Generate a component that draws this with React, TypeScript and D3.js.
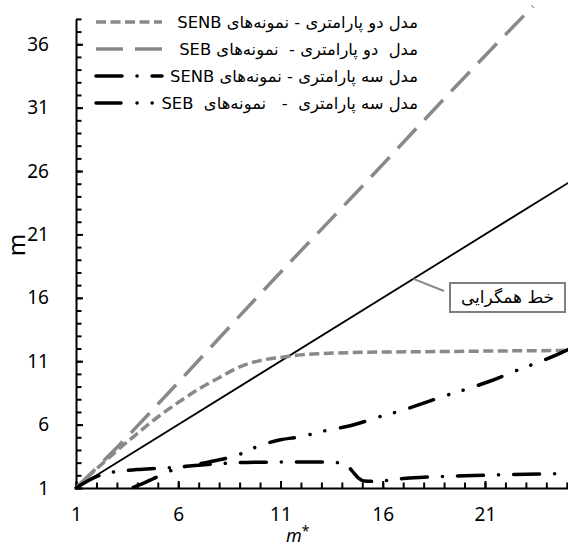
import React from 'react';
import * as d3 from 'd3';

// m* values and m values
const senb2X = [1, 2, 3, 4, 5, 6, 7, 8, 9, 10, 11, 12, 13, 15, 18, 21, 25.1];
const senb2Y = [1, 2.5, 3.95, 5.3, 6.6, 7.75, 8.8, 9.7, 10.55, 11.05, 11.3,
  11.5, 11.6, 11.7, 11.75, 11.8, 11.85];

const seb2X = [1, 3, 5, 10, 15, 20, 23.35];
const seb2Y = [1, 4.2, 7.6, 16.3, 24.8, 33.4, 39];

const senb3X = [1, 2, 2.5, 3, 4, 5, 6, 7, 8, 9, 10, 11, 12, 13, 13.8, 14.2,
  14.5, 14.8, 15.1, 15.6, 16.2, 17, 18, 20, 22, 25.1];
const senb3Y = [1, 1.9, 2.15, 2.3, 2.45, 2.55, 2.65, 2.8, 2.92, 3.0, 3.03,
  3.05, 3.05, 3.05, 3.0, 2.85, 2.35, 1.8, 1.55, 1.52, 1.6, 1.75, 1.85, 1.97,
  2.05, 2.15];

const seb3X = [3.8, 4.2, 4.8, 5.45, 6.5, 7.5, 8.9, 10, 11, 12, 13, 14.5, 15.8,
  17, 18, 19.2, 20, 21.2, 22.6, 23.5, 24.5, 25.1];
const seb3Y = [1.05, 1.3, 1.75, 2.25, 2.75, 3.05, 3.6, 4.35, 4.8, 5.05, 5.45,
  5.95, 6.6, 7.15, 7.7, 8.35, 8.75, 9.4, 10.3, 10.85, 11.5, 11.95];

const convX = [1, 25.1];
const convY = [1, 25.1];

const xTicks = [1, 6, 11, 16, 21];
const yTicks = [1, 6, 11, 16, 21, 26, 31, 36];

const legendLabels = [
  'مدل دو پارامتری - نمونه‌های SENB',
  'مدل  دو پارامتری -  نمونه‌های SEB',
  'مدل سه پارامتری - نمونه‌های SENB',
  'مدل سه پارامتری  -   نمونه‌های  SEB',
];
const calloutLabel = 'خط همگرایی';

const GRAY = '#898989';

type Style = {color: string, width: number, dash: string, cap: string};

const styles: Style[] = [
  {color: GRAY, width: 3.5, dash: '10,4.5', cap: 'butt'},
  {color: GRAY, width: 3.5, dash: '27,12', cap: 'butt'},
  {color: '#000', width: 3.5, dash: '26,15,0.1,15', cap: 'round'},
  {color: '#000', width: 3.5, dash: '25,16,0.1,15,0.1,16', cap: 'round'},
];

export default class App extends React.Component {
  svgRef = React.createRef<SVGSVGElement>();

  componentDidMount(): void {
    this.drawChart();
  }

  render() {
    return (
      <svg ref={this.svgRef} width={568} height={546}
        style={{position: 'absolute', left: 0, top: 0, background: '#fff'}}>
      </svg>
    );
  }

  drawChart() {
    const svg = d3.select(this.svgRef.current);
    svg.selectAll('*').remove();

    const x = d3.scaleLinear().domain([1, 25.06]).range([76, 568]);
    const y = d3.scaleLinear().domain([1, 38]).range([488, 18.9]);

    const font = '\'Noto Sans\', sans-serif';

    // minor ticks every unit
    svg.append('g')
        .attr('transform', 'translate(0,488)')
        .call(d3.axisBottom(x).tickValues(d3.range(1, 26))
            .tickSize(-5.5).tickSizeOuter(0).tickFormat(() => ''))
        .call((g: any) => g.selectAll('line,path')
            .attr('stroke', '#000').attr('stroke-width', 2));
    svg.append('g')
        .attr('transform', 'translate(0,488)')
        .call(d3.axisBottom(x).tickValues(xTicks)
            .tickSize(-7).tickSizeOuter(0).tickPadding(20))
        .call((g: any) => g.select('.domain').remove())
        .call((g: any) => g.selectAll('line')
            .attr('stroke', '#000').attr('stroke-width', 2))
        .call((g: any) => g.selectAll('text')
            .attr('font-family', font).attr('font-size', 19)
            .attr('fill', '#000'));

    svg.append('g')
        .attr('transform', 'translate(76,0)')
        .call(d3.axisLeft(y).tickValues(d3.range(1, 39))
            .tickSize(-5.5).tickSizeOuter(0).tickFormat(() => ''))
        .call((g: any) => g.selectAll('line,path')
            .attr('stroke', '#000').attr('stroke-width', 2));
    svg.append('g')
        .attr('transform', 'translate(76,0)')
        .call(d3.axisLeft(y).tickValues(yTicks)
            .tickSize(-7).tickSizeOuter(0).tickPadding(27))
        .call((g: any) => g.select('.domain').remove())
        .call((g: any) => g.selectAll('line')
            .attr('stroke', '#000').attr('stroke-width', 2))
        .call((g: any) => g.selectAll('text')
            .attr('font-family', font).attr('font-size', 19)
            .attr('fill', '#000'));

    // axis titles
    svg.append('text')
        .attr('transform', 'translate(25,245) rotate(-90)')
        .attr('text-anchor', 'middle')
        .attr('font-family', font)
        .attr('font-size', 24)
        .text('m');
    const xt = svg.append('text')
        .attr('x', 286)
        .attr('y', 542)
        .attr('font-family', font)
        .attr('font-size', 18);
    xt.append('tspan').attr('font-style', 'italic').text('m');
    xt.append('tspan').attr('dy', -6).attr('font-size', 14).text('*');

    const line = d3.line<[number, number]>()
        .x((d) => x(d[0]))
        .y((d) => y(d[1]))
        .curve(d3.curveMonotoneX);

    const zip = (a: number[], b: number[]) =>
      a.map((v, i) => [v, b[i]] as [number, number]);

    // convergence line
    svg.append('path')
        .attr('d', d3.line<[number, number]>()
            .x((d) => x(d[0])).y((d) => y(d[1]))(zip(convX, convY)))
        .attr('fill', 'none')
        .attr('stroke', '#000')
        .attr('stroke-width', 1.8);

    const series = [
      zip(senb2X, senb2Y),
      zip(seb2X, seb2Y),
      zip(senb3X, senb3Y),
      zip(seb3X, seb3Y),
    ];
    series.forEach((s, i) => {
      svg.append('path')
          .attr('d', line(s))
          .attr('fill', 'none')
          .attr('stroke', styles[i].color)
          .attr('stroke-width', styles[i].width)
          .attr('stroke-dasharray', styles[i].dash)
          .attr('stroke-linecap', styles[i].cap);
    });

    // legend
    const rowY = [22, 49, 76, 103];
    legendLabels.forEach((label, i) => {
      svg.append('line')
          .attr('x1', 96).attr('x2', 162)
          .attr('y1', rowY[i]).attr('y2', rowY[i])
          .attr('stroke', styles[i].color)
          .attr('stroke-width', styles[i].width)
          .attr('stroke-dasharray', styles[i].dash)
          .attr('stroke-linecap', styles[i].cap);
      svg.append('text')
          .attr('x', 418)
          .attr('y', rowY[i] + 6)
          .attr('direction', 'rtl')
          .attr('text-anchor', 'start')
          .style('white-space', 'pre')
          .attr('font-family', '\'DejaVu Sans\', sans-serif')
          .attr('font-size', 16.4)
          .text(label);
    });

    // callout for convergence line
    svg.append('line')
        .attr('x1', x(17.5)).attr('y1', y(17.5))
        .attr('x2', 444).attr('y2', 291)
        .attr('stroke', GRAY)
        .attr('stroke-width', 2);
    svg.append('rect')
        .attr('x', 450).attr('y', 283)
        .attr('width', 115).attr('height', 29)
        .attr('fill', '#fff')
        .attr('stroke', '#7f7f7f')
        .attr('stroke-width', 2);
    svg.append('text')
        .attr('x', 507.5)
        .attr('y', 303)
        .attr('text-anchor', 'middle')
        .attr('font-family', '\'DejaVu Sans\', sans-serif')
        .attr('font-size', 17)
        .text(calloutLabel);
  }
}
